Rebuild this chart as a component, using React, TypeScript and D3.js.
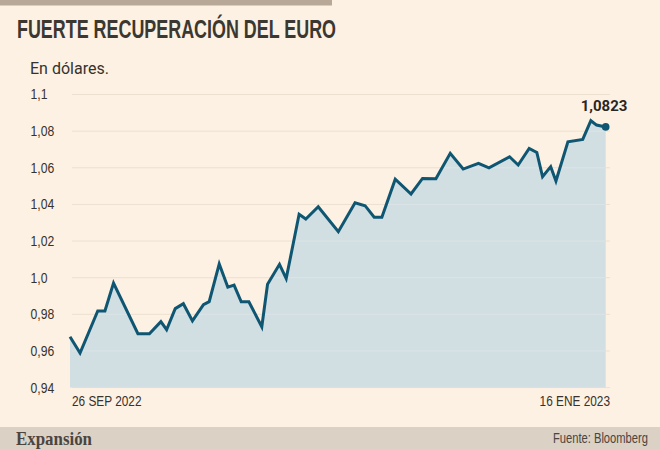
import React from "react";
import * as d3 from "d3";

const days = [0, 2.1, 5.8, 7.3, 9.1, 14.2, 16.6, 19.0, 20.2, 22.0, 23.7, 25.6, 27.9, 29.1, 31.2, 33.0, 34.3, 35.8, 37.4, 40.1, 41.3, 43.8, 45.2, 47.9, 49.3, 51.9, 56.1, 59.6, 61.7, 63.6, 65.2, 68.0, 71.3, 73.7, 76.5, 79.5, 82.2, 85.4, 87.6, 91.9, 93.7, 96.0, 97.6, 98.8, 100.5, 101.6, 104.1, 107.2, 108.9, 110.1, 112];
const values = [0.9678, 0.9589, 0.9818, 0.9818, 0.9971, 0.9694, 0.9694, 0.976, 0.9716, 0.9831, 0.9858, 0.9764, 0.9853, 0.9869, 1.0075, 0.9948, 0.9959, 0.9868, 0.9868, 0.9732, 0.9964, 1.0073, 0.9995, 1.0346, 1.032, 1.0387, 1.0251, 1.0409, 1.0393, 1.033, 1.033, 1.0538, 1.0457, 1.0542, 1.054, 1.0679, 1.0593, 1.0624, 1.06, 1.066, 1.0615, 1.0706, 1.0684, 1.0551, 1.0606, 1.0528, 1.0742, 1.0755, 1.0857, 1.0833, 1.0823];
const yTicks = [0.94, 0.96, 0.98, 1.0, 1.02, 1.04, 1.06, 1.08, 1.1];
const yTickLabels = ["0,94", "0,96", "0,98", "1,0", "1,02", "1,04", "1,06", "1,08", "1,1"];
const xLabels = ["26 SEP 2022", "16 ENE 2023"];
const lastLabel = "1,0823";
const title = "FUERTE RECUPERACIÓN DEL EURO";
const subtitle = "En dólares.";
const source = "Fuente: Bloomberg";
const brand = "Expansión";

const W = 660;
const H = 449;
const BG = "#fdf1e3";
const LINE = "#0f5673";
const AREA = "#d1dee2";
const TEXT = "#36322d";
const SANS = "'Liberation Sans', Arial, sans-serif";

function Narrow(props: {
  x: number;
  y: number;
  size: number;
  sx: number;
  anchor?: "start" | "end" | "middle";
  fill?: string;
  dy?: string;
  children: React.ReactNode;
}) {
  return (
    <text
      transform={`translate(${props.x},${props.y}) scale(${props.sx},1)`}
      textAnchor={props.anchor || "start"}
      fontFamily={SANS}
      fontSize={props.size}
      fill={props.fill || TEXT}
      dy={props.dy}
    >
      {props.children}
    </text>
  );
}

export default function App() {
  const x = d3.scaleLinear().domain([0, 112]).range([70, 605.7]);
  const y = d3.scaleLinear().domain([0.94, 1.1]).range([387.6, 94.5]);
  const pts = days.map((d, i) => [d, values[i]] as [number, number]);
  const line = d3
    .line<[number, number]>()
    .x((d) => x(d[0]))
    .y((d) => y(d[1]));
  const area = d3
    .area<[number, number]>()
    .x((d) => x(d[0]))
    .y0(y(0.94))
    .y1((d) => y(d[1]));
  const last = pts[pts.length - 1];
  const areaD = area(pts) || "";

  return (
    <svg
      width={W}
      height={H}
      style={{ position: "absolute", left: 0, top: 0, display: "block" }}
    >
      <defs>
        <clipPath id="areaClip">
          <path d={areaD} />
        </clipPath>
      </defs>
      <rect x={0} y={0} width={W} height={H} fill={BG} />
      <rect x={0} y={0} width={332} height={5.5} fill="#b8a898" />
      <text
        x={17}
        y={37.5}
        fontFamily={SANS}
        fontWeight="bold"
        fontSize={26}
        fill="#3b3832"
        textLength={319}
        lengthAdjust="spacingAndGlyphs"
      >
        {title}
      </text>
      <text x={30} y={74} fontFamily="Roboto, sans-serif" fontSize={16} fill={TEXT}>
        {subtitle}
      </text>

      {yTicks.map((t, i) => (
        <g key={t}>
          <line x1={72} x2={610} y1={y(t)} y2={y(t)} stroke="#ece0d1" strokeWidth={1} />
          <Narrow x={30.5} y={y(t)} dy="0.35em" size={14} sx={0.87}>
            {yTickLabels[i]}
          </Narrow>
        </g>
      ))}

      <path d={areaD} fill={AREA} />
      {yTicks.slice(1).map((t) => (
        <line
          key={"g" + t}
          x1={72}
          x2={610}
          y1={y(t)}
          y2={y(t)}
          stroke="#dbe5e7"
          strokeWidth={1}
          clipPath="url(#areaClip)"
        />
      ))}
      <path
        d={line(pts) || ""}
        fill="none"
        stroke={LINE}
        strokeWidth={3}
        strokeLinejoin="miter"
        strokeLinecap="butt"
      />
      <circle cx={x(last[0])} cy={y(last[1])} r={3.8} fill={LINE} />
      <text
        x={604}
        y={110.5}
        textAnchor="middle"
        fontFamily="Roboto, sans-serif"
        fontWeight="bold"
        fontSize={15}
        fill="#2a2723"
      >
        {lastLabel}
      </text>

      <Narrow x={72} y={406} size={15} sx={0.79}>
        {xLabels[0]}
      </Narrow>
      <Narrow x={610} y={406} size={15} sx={0.79} anchor="end">
        {xLabels[1]}
      </Narrow>

      <rect x={0} y={427} width={W} height={22} fill="#dcd1c5" />
      <text
        x={16}
        y={445}
        fontFamily="'Liberation Serif', 'DejaVu Serif', serif"
        fontWeight="bold"
        fontSize={19}
        fill="#4a4540"
        textLength={76}
        lengthAdjust="spacingAndGlyphs"
      >
        {brand}
      </text>
      <Narrow x={648} y={443} size={14} sx={0.8} anchor="end" fill="#4a4540">
        {source}
      </Narrow>
    </svg>
  );
}
